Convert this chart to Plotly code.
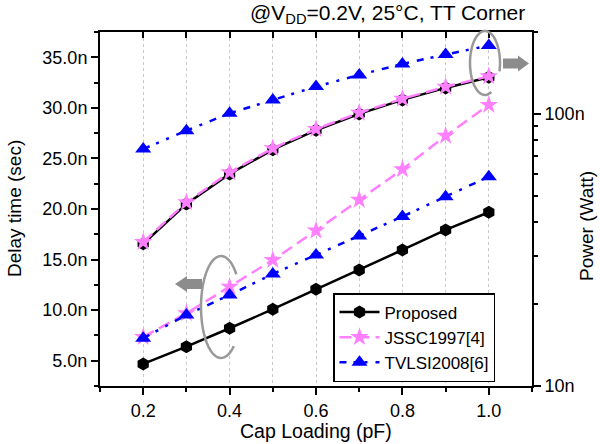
import math
import plotly.graph_objects as go

# ---------------- data ----------------
cap_loading = [0.2, 0.3, 0.4, 0.5, 0.6, 0.7, 0.8, 0.9, 1.0]

delay_proposed = [4.68, 6.39, 8.21, 10.09, 12.06, 13.97, 15.95, 17.93, 19.68]
delay_jssc = [7.35, 9.69, 12.32, 14.96, 17.86, 20.90, 23.93, 27.23, 30.29]
delay_tvlsi = [7.22, 9.52, 11.50, 13.58, 15.46, 17.34, 19.25, 21.22, 23.20]

power_proposed = [33.3, 46.7, 60.2, 73.9, 87.1, 100.0, 112.6, 124.6, 136.4]
power_jssc = [33.8, 47.3, 61.0, 74.8, 88.0, 101.0, 113.6, 125.8, 137.5]
power_tvlsi = [74.3, 86.8, 100.5, 112.6, 126.0, 139.1, 152.7, 165.2, 178.3]

series_names = ["Proposed", "JSSC1997[4]", "TVLSI2008[6]"]
power_tickvals = [10, 100]
power_ticktext = ["10n", "100n"]

# ---------------- geometry helpers ----------------
W, H = 600, 444
PL, PR, PT, PB = 100, 532, 32, 386


def px(x):
    return (x - PL) / (PR - PL)


def py(y):
    return (PB - y) / (PB - PT)


def arc_path(cx, cy, rx, ry, a0, a1, n=60):
    pts = []
    for i in range(n + 1):
        a = math.radians(a0 + (a1 - a0) * i / n)
        pts.append((px(cx + rx * math.cos(a)), py(cy - ry * math.sin(a))))
    return "M " + " L ".join(f"{x:.5f},{y:.5f}" for x, y in pts)


def poly_path(points):
    return "M " + " L ".join(f"{px(x):.5f},{py(y):.5f}" for x, y in points) + " Z"


FONT = "Liberation Sans, Arial, sans-serif"
BLACK = "#000000"
PINK = "#FF80FF"
BLUE = "#0000FF"
GRAY = "#999999"

fig = go.Figure()

styles = [
    dict(color=BLACK, dash="solid", symbol="hexagon", size=13),
    dict(color=PINK, dash="12px,6px", symbol="star", size=14),
    dict(color=BLUE, dash="7px,7px,3px,8px,3px,8px", symbol="triangle-up", size=14),
]

delays = [delay_proposed, delay_jssc, delay_tvlsi]
powers = [power_proposed, power_jssc, power_tvlsi]

# power traces (right axis)
for name, vals, st in zip(series_names, powers, styles):
    fig.add_trace(go.Scatter(
        x=cap_loading, y=vals, yaxis="y2", mode="lines+markers",
        name=name, legendgroup=name, showlegend=False,
        line=dict(color=st["color"], width=2.5, dash=st["dash"]),
        marker=dict(symbol=st["symbol"], size=st["size"], color=st["color"], line=dict(width=0)),
    ))

# delay traces (left axis)
for name, vals, st in zip(series_names, delays, styles):
    fig.add_trace(go.Scatter(
        x=cap_loading, y=vals, yaxis="y", mode="lines+markers",
        name=name, legendgroup=name, showlegend=True,
        line=dict(color=st["color"], width=2.5, dash=st["dash"]),
        marker=dict(symbol=st["symbol"], size=st["size"], color=st["color"], line=dict(width=0)),
    ))

# empty trace to activate top axis (inside ticks)
fig.add_trace(go.Scatter(x=[None], y=[None], xaxis="x2", yaxis="y", showlegend=False,
                         hoverinfo="skip", mode="markers"))

# ---------------- decorations ----------------
shapes = [
    # ellipse near power group (top right)
    dict(type="path", xref="paper", yref="paper",
         path=arc_path(485, 63, 15, 32, -15, 295), line=dict(color=GRAY, width=2.5)),
    # ellipse near delay group (bottom left)
    dict(type="path", xref="paper", yref="paper",
         path=arc_path(221, 307, 20, 51, 40, 310), line=dict(color=GRAY, width=2.5)),
    # right arrow
    dict(type="path", xref="paper", yref="paper",
         path=poly_path([(503, 58.5), (518, 58.5), (518, 55.5), (529, 63.5), (518, 71.5), (518, 68.5), (503, 68.5)]),
         fillcolor="#8c8c8c", line=dict(width=0)),
    # left arrow
    dict(type="path", xref="paper", yref="paper",
         path=poly_path([(202, 279), (187, 279), (187, 276), (175, 284), (187, 292), (187, 289), (202, 289)]),
         fillcolor="#8c8c8c", line=dict(width=0)),
]

annotations = [
    dict(text="@V<sub>DD</sub>=0.2V, 25°C, TT Corner", xref="paper", yref="paper",
         x=px(527), y=py(14), xanchor="right", yanchor="middle", showarrow=False,
         font=dict(family=FONT, size=21, color=BLACK)),
    dict(text="Delay time (sec)", xref="paper", yref="paper",
         x=px(14), y=py(209), xanchor="center", yanchor="middle", textangle=-90, showarrow=False,
         font=dict(family=FONT, size=19, color=BLACK)),
    dict(text="Power (Watt)", xref="paper", yref="paper",
         x=px(587), y=py(226), xanchor="center", yanchor="middle", textangle=-90, showarrow=False,
         font=dict(family=FONT, size=19, color=BLACK)),
    dict(text="Cap Loading (pF)", xref="paper", yref="paper",
         x=px(316), y=py(431), xanchor="center", yanchor="middle", showarrow=False,
         font=dict(family=FONT, size=19.5, color=BLACK)),
]

fig.update_layout(
    width=W, height=H,
    margin=dict(l=PL, r=W - PR, t=PT, b=H - PB, pad=0),
    paper_bgcolor="white", plot_bgcolor="white",
    font=dict(family=FONT, size=18, color=BLACK),
    showlegend=True,
    legend=dict(
        x=px(333), y=py(293), xanchor="left", yanchor="top",
        bgcolor="white", bordercolor=BLACK, borderwidth=1.5,
        font=dict(family=FONT, size=17, color=BLACK),
        tracegroupgap=0, itemwidth=40,
    ),
    xaxis=dict(
        range=[0.1, 1.1], tick0=0.2, dtick=0.2, tickformat=".1f",
        ticks="outside", ticklen=7, tickwidth=1.5, tickcolor=BLACK,
        showline=True, linecolor=BLACK, linewidth=2, mirror=False,
        showgrid=True, gridcolor="#c8c8c8", griddash="dot", gridwidth=1,
        minor=dict(tick0=0.1, dtick=0.1, ticks="outside", ticklen=4, tickwidth=1.5, tickcolor=BLACK,
                   showgrid=True, gridcolor="#c8c8c8", griddash="dot", gridwidth=1),
        zeroline=False, tickfont=dict(size=18),
    ),
    xaxis2=dict(
        overlaying="x", side="top", anchor="y", range=[0.1, 1.1], tick0=0.2, dtick=0.1,
        ticks="inside", ticklen=6, tickwidth=1.5, tickcolor=BLACK, showticklabels=False,
        showline=True, linecolor=BLACK, linewidth=2, showgrid=False, zeroline=False,
    ),
    yaxis=dict(
        range=[2.5, 37.5], tick0=5, dtick=5, tickformat=".1f", ticksuffix="n",
        ticks="outside", ticklen=7, tickwidth=1.5, tickcolor=BLACK,
        showline=True, linecolor=BLACK, linewidth=2, showgrid=False, zeroline=False,
        minor=dict(tick0=2.5, dtick=2.5, ticks="outside", ticklen=4, tickwidth=1.5, tickcolor=BLACK),
        tickfont=dict(size=18),
    ),
    yaxis2=dict(
        overlaying="y", side="right", type="log", range=[1, math.log10(200)],
        tickmode="array", tickvals=power_tickvals, ticktext=power_ticktext,
        ticks="outside", ticklen=7, tickwidth=1.5, tickcolor=BLACK,
        showline=True, linecolor=BLACK, linewidth=2, showgrid=False, zeroline=False,
        minor=dict(tickmode="array", tickvals=[20, 30, 40, 50, 60, 70, 80, 90, 200],
                   ticks="outside", ticklen=4, tickwidth=1.5, tickcolor=BLACK),
        tickfont=dict(size=18),
    ),
    shapes=shapes,
    annotations=annotations,
)

fig.write_html("out.html")
